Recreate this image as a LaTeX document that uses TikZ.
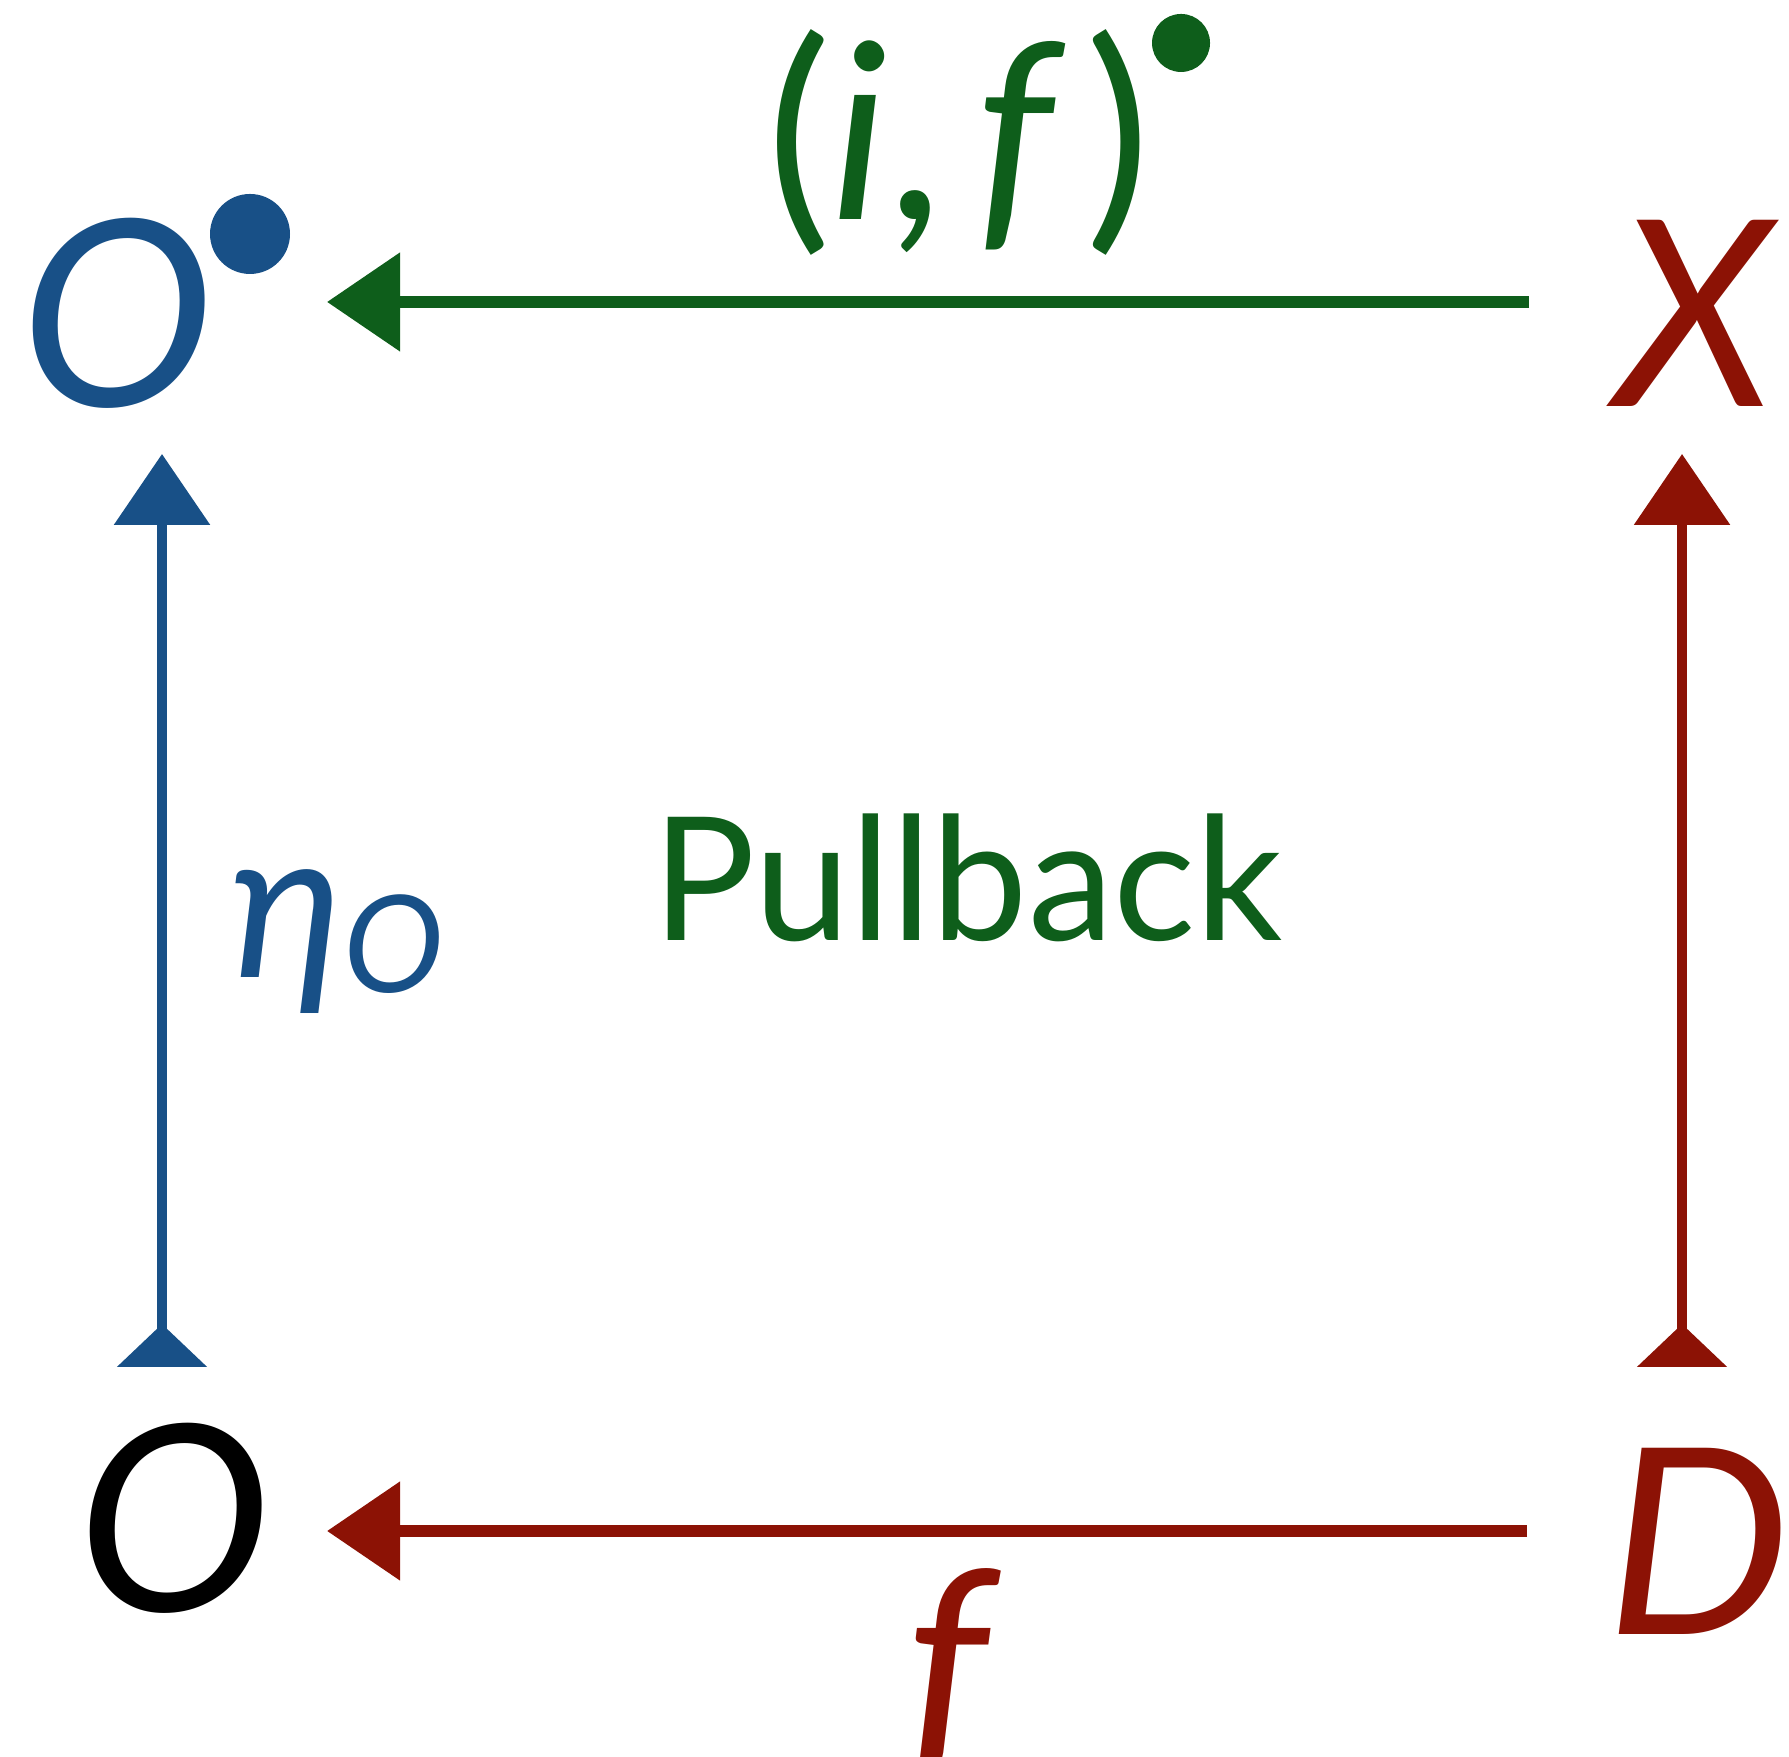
\documentclass[tikz,border=0pt]{standalone}
\usepackage{fontspec}
\setmainfont{Lato}
\usetikzlibrary{arrows.meta}
\definecolor{cblue}{RGB}{24,80,135}
\definecolor{cgreen}{RGB}{14,94,27}
\definecolor{cred}{RGB}{140,18,5}
\tikzset{
  lbl/.style={inner sep=0pt, outer sep=0pt},
  big/.style={lbl, font=\fontsize{26}{30}\selectfont\itshape},
  dotmark/.style={circle, inner sep=0pt, outer sep=0pt},
  harrow/.style={line width=1.2pt, -{Triangle[length=7.3pt,width=9.6pt]}},
  varrow/.style={line width=1.0pt, {Triangle[reversed,length=4.3pt,width=8.8pt]}-{Triangle[length=7.1pt,width=9.4pt]}}
}
\begin{document}
\begin{tikzpicture}[x=0.1pt,y=-0.1pt]
\useasboundingbox (0,0) rectangle (1789,1757);
% corner objects
\node[big, text=cblue, anchor=base west] (Otop) at (20,407) {O};
\node[dotmark, fill=cblue, minimum size=8pt] (Otopdot) at (250,234) {};
\node[big, text=cred, anchor=base west] (Xn) at (1615,407) {X};
\node[big, text=black, anchor=base west] (Obot) at (78,1611) {O};
\node[big, text=cred, anchor=base west] (Dn) at (1606,1634) {D};
% arrow end points
\coordinate (topS) at (1529,302);
\coordinate (topE) at (327,302);
\coordinate (botS) at (1527,1531);
\coordinate (botE) at (327,1531);
\coordinate (leftS) at (162,1367);
\coordinate (leftE) at (162,454);
\coordinate (rightS) at (1682,1367);
\coordinate (rightE) at (1682,454);
% arrows
\draw[harrow, cgreen] (topS) -- (topE);
\draw[harrow, cred] (botS) -- (botE);
\draw[varrow, cblue] (leftS) -- (leftE);
\draw[varrow, cred] (rightS) -- (rightE);
% labels
\node[lbl, text=cgreen, font=\fontsize{24.5}{30}\selectfont, anchor=base west] (toplbl) at (766,220) {(\textit{i},\hspace{3.2pt}\textit{f}\hspace{2pt})};
\node[dotmark, fill=cgreen, minimum size=5.8pt] (toplbldot) at (1181,43) {};
\node[lbl, text=cblue, font=\fontsize{21}{25}\selectfont\itshape, anchor=base west] (eta) at (230,978) {η\raisebox{-1.5pt}{\fontsize{13.5}{16}\selectfont O}};
\node[lbl, text=cgreen, font=\fontsize{17.2}{20}\selectfont, anchor=base west] (pb) at (652,941) {Pullback};
\node[big, text=cred, anchor=base west] (flbl) at (905,1757) {f};
\end{tikzpicture}
\end{document}
